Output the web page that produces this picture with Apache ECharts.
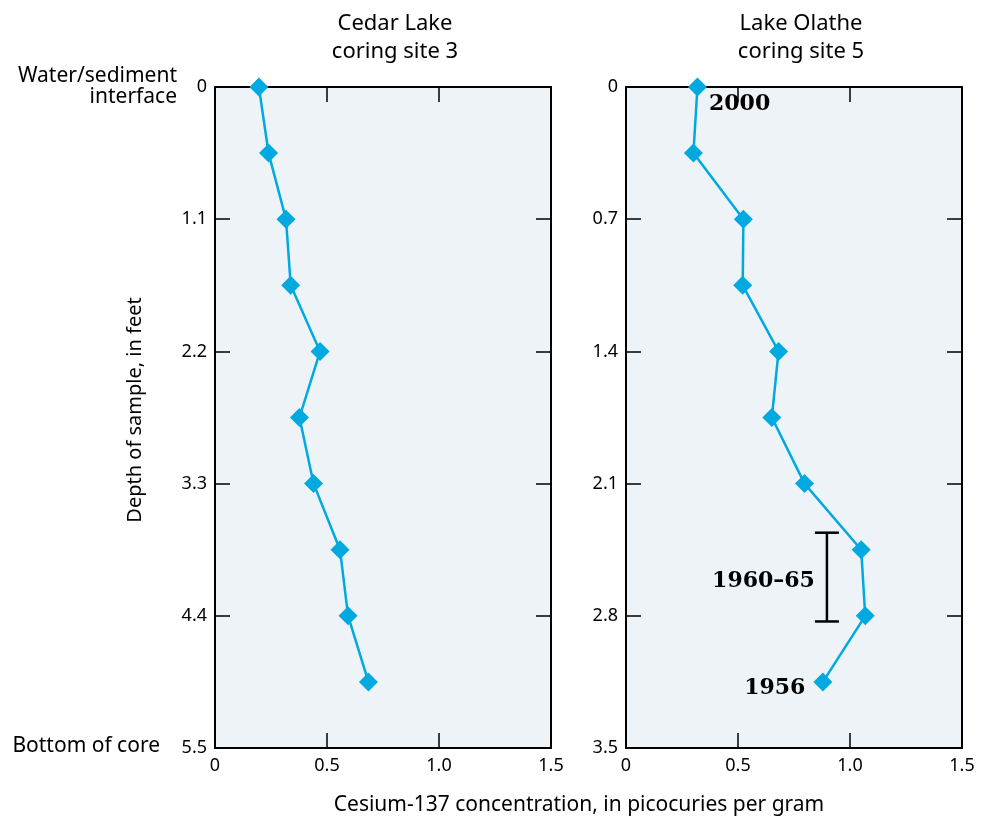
<!DOCTYPE html>
<html>
<head>
<meta charset="utf-8">
<script src="https://cdn.jsdelivr.net/npm/echarts@6/dist/echarts.min.js"></script>
<style>
  html, body { margin: 0; padding: 0; background: #fff; }
  #chart { width: 988px; height: 820px; }
</style>
</head>
<body>
<div id="chart"></div>
<script>
// depth of sample, in feet
var cedarDepth = [0, 0.55, 1.1, 1.65, 2.2, 2.75, 3.3, 3.85, 4.4, 4.95];
var olatheDepth = [0, 0.35, 0.7, 1.05, 1.4, 1.75, 2.1, 2.45, 2.8, 3.15];
// cesium-137, pCi/g
var cedarCs = [0.196, 0.239, 0.317, 0.338, 0.469, 0.377, 0.440, 0.558, 0.594, 0.685];
var olatheCs = [0.319, 0.301, 0.524, 0.521, 0.681, 0.651, 0.797, 1.050, 1.068, 0.879];
// dated samples in the Olathe core
var olatheDates = { 0: '2000', 9: '1956' };
// 1960-65 bracket: [concentration, top depth, bottom depth]
var bracket = [[0.897, 2.36, 2.83]];
var bracketLabel = '1960–65';

var sans = 'Noto Sans';
var serif = 'DejaVu Serif';
var lineColor = '#00a9e0';

var chart = echarts.init(document.getElementById('chart'));

function xAxes(gi) {
  return [{
    type: 'value', gridIndex: gi, min: 0, max: 1.5, interval: 0.5, position: 'bottom',
    axisLine: { show: true, onZero: false, lineStyle: { color: '#000', width: 2 } },
    axisTick: { show: true, inside: true, length: 15, lineStyle: { color: '#000', width: 1.5 } },
    axisLabel: { color: '#000', fontFamily: sans, fontSize: 18, margin: 9,
      formatter: function (v) { return v === 0 ? '0' : v.toFixed(1); } },
    splitLine: { show: false }
  }, {
    type: 'value', gridIndex: gi, min: 0, max: 1.5, interval: 0.5, position: 'top',
    axisLine: { show: true, onZero: false, lineStyle: { color: '#000', width: 2 } },
    axisTick: { show: true, inside: true, length: 15, lineStyle: { color: '#000', width: 1.5 } },
    axisLabel: { show: false },
    splitLine: { show: false }
  }];
}

function yAxes(gi, max, step) {
  return [{
    type: 'value', gridIndex: gi, min: 0, max: max, interval: step, inverse: true, position: 'left',
    axisLine: { show: true, onZero: false, lineStyle: { color: '#000', width: 2 } },
    axisTick: { show: true, inside: true, length: 15, lineStyle: { color: '#000', width: 1.5 } },
    axisLabel: { color: '#000', fontFamily: sans, fontSize: 18, margin: 8,
      formatter: function (v) { return v === 0 ? '0' : v.toFixed(1); } },
    splitLine: { show: false }
  }, {
    type: 'value', gridIndex: gi, min: 0, max: max, interval: step, inverse: true, position: 'right',
    axisLine: { show: true, onZero: false, lineStyle: { color: '#000', width: 2 } },
    axisTick: { show: true, inside: true, length: 15, lineStyle: { color: '#000', width: 1.5 } },
    axisLabel: { show: false },
    splitLine: { show: false }
  }];
}

function pairs(xs, ys) {
  return xs.map(function (x, i) { return [x, ys[i]]; });
}

var option = {
  animation: false,
  backgroundColor: '#fff',
  grid: [
    { left: 215, top: 87, width: 336, height: 661, show: true, backgroundColor: '#eef3f7', borderWidth: 0 },
    { left: 626, top: 87, width: 336, height: 661, show: true, backgroundColor: '#eef3f7', borderWidth: 0 }
  ],
  xAxis: xAxes(0).concat(xAxes(1)),
  yAxis: yAxes(0, 5.5, 1.1).concat(yAxes(1, 3.5, 0.7)),
  title: [
    { text: 'Cedar Lake\ncoring site 3', left: 390, top: 5, textAlign: 'center',
      textStyle: { fontFamily: sans, fontSize: 22, fontWeight: 'normal', color: '#000', lineHeight: 28 } },
    { text: 'Lake Olathe\ncoring site 5', left: 796, top: 5, textAlign: 'center',
      textStyle: { fontFamily: sans, fontSize: 22, fontWeight: 'normal', color: '#000', lineHeight: 28 } }
  ],
  graphic: [
    { type: 'text', x: 579, y: 805,
      style: { text: 'Cesium-137 concentration, in picocuries per gram', font: '21px "Noto Sans"', fill: '#000', align: 'center', verticalAlign: 'middle' } },
    { type: 'text', x: 135, y: 410, rotation: Math.PI / 2,
      style: { text: 'Depth of sample, in feet', font: '20px "Noto Sans"', fill: '#000', align: 'center', verticalAlign: 'middle' } },
    { type: 'text', x: 177, y: 87,
      style: { text: 'Water/sediment\ninterface', font: '21px "Noto Sans"', fill: '#000', align: 'right', verticalAlign: 'middle', lineHeight: 21 } },
    { type: 'text', x: 160, y: 746,
      style: { text: 'Bottom of core', font: '21px "Noto Sans"', fill: '#000', align: 'right', verticalAlign: 'middle' } }
  ],
  series: [
    {
      type: 'line', xAxisIndex: 0, yAxisIndex: 0,
      data: pairs(cedarCs, cedarDepth),
      symbol: 'diamond', symbolSize: 19,
      lineStyle: { color: lineColor, width: 2.5 },
      itemStyle: { color: lineColor }
    },
    {
      type: 'line', xAxisIndex: 2, yAxisIndex: 2,
      data: pairs(olatheCs, olatheDepth).map(function (p, i) {
        if (!olatheDates[i]) return p;
        return {
          value: p,
          label: {
            show: true, formatter: olatheDates[i],
            position: i === 0 ? 'right' : 'left',
            offset: i === 0 ? [-3, 17] : [-3, 6],
            fontFamily: serif, fontWeight: 'bold', fontSize: 22, color: '#000'
          }
        };
      }),
      symbol: 'diamond', symbolSize: 19,
      lineStyle: { color: lineColor, width: 2.5 },
      itemStyle: { color: lineColor }
    },
    {
      type: 'custom', xAxisIndex: 2, yAxisIndex: 2,
      data: bracket,
      renderItem: function (params, api) {
        var top = api.coord([api.value(0), api.value(1)]);
        var bot = api.coord([api.value(0), api.value(2)]);
        var st = { stroke: '#000', lineWidth: 2.5 };
        return {
          type: 'group',
          children: [
            { type: 'line', shape: { x1: top[0], y1: top[1], x2: bot[0], y2: bot[1] }, style: st },
            { type: 'line', shape: { x1: top[0] - 12, y1: top[1], x2: top[0] + 12, y2: top[1] }, style: st },
            { type: 'line', shape: { x1: bot[0] - 12, y1: bot[1], x2: bot[0] + 12, y2: bot[1] }, style: st },
            { type: 'text', x: top[0] - 12, y: (top[1] + bot[1]) / 2 + 4,
              style: { text: bracketLabel, font: 'bold 22px "DejaVu Serif"', fill: '#000', align: 'right', verticalAlign: 'middle' } }
          ]
        };
      }
    }
  ]
};

chart.setOption(option);
</script>
</body>
</html>
